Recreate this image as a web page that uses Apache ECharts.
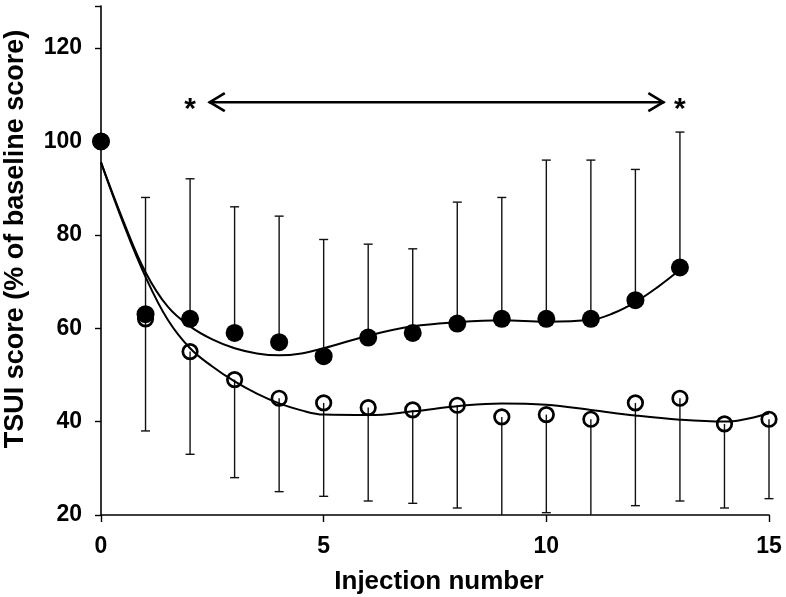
<!DOCTYPE html>
<html>
<head>
<meta charset="utf-8">
<script src="https://cdn.jsdelivr.net/npm/echarts@6/dist/echarts.min.js"></script>
<style>
html,body{margin:0;padding:0;background:#fff;}
#chart{width:786px;height:597px;}
</style>
</head>
<body>
<div id="chart"></div>
<script>
// ---- data ----
var filledX = [0,1,2,3,4,5,6,7,8,9,10,11,12,13];
var filledY = [100,63,62,59,57,54,58,59,61,62,62,62,66,73];
var filledUpper = [null,88,92,86,84,79,78,77,87,88,96,96,94,102];

var openX = [0,1,2,3,4,5,6,7,8,9,10,11,12,13,14,15];
var openY = [100,62,55,49,45,44,43,42.5,43.5,41,41.5,40.5,44,45,39.5,40.5];
var openLower = [null,38,33,28,25,24,23,22.5,21.5,18,20.5,18,22,23,21.5,23.5];

// fitted curves
var fitFilledX = [0,0.5,1,1.5,2,2.5,3,3.5,4,4.5,5,6,7,8,9,10,11,11.5,12,12.5,13];
var fitFilledY = [95.5,83,72,64.6,60.4,57.6,55.7,54.6,54.2,54.6,55.7,58.4,60.4,61.3,61.7,61.4,61.8,63.2,65.6,68.8,72.5];
var fitOpenX = [0,0.5,1,1.5,2,2.5,3,3.5,4,4.5,5,6,7,8,9,10,11,12,13,14,15];
var fitOpenY = [95.5,82.5,71,61.8,55.7,51.8,48.6,46,43.9,42.4,41.5,41.4,42.2,43.3,43.9,43.6,42.5,41.3,40.4,40.0,41.8];

// significance annotation
var arrowSpan = [2.42, 12.65];
var arrowLevel = 108.4;
var starX = [2, 13];
var starLevel = 108.4;

var xTicks = [0,5,10,15];
var yTicks = [20,40,60,80,100,120];
var yMin = 20, yMax = 129;
var xTitle = 'Injection number';
var yTitle = 'TSUI score (% of baseline score)';

// ---- build ----
var FONT = "'Liberation Sans', Arial, Helvetica, sans-serif";
function zip(a,b){ return a.map(function(v,i){ return [v,b[i]]; }); }

var filledErr = [];
filledX.forEach(function(x,i){ if(filledUpper[i]!=null) filledErr.push([x, filledY[i], filledUpper[i]]); });
var openErr = [];
openX.forEach(function(x,i){ if(openLower[i]!=null) openErr.push([x, openLower[i], openY[i]]); });

function errRender(capTop){
  return function(params, api){
    var x = api.value(0), lo = api.value(1), hi = api.value(2);
    var a = api.coord([x, Math.max(lo, yMin)]), b = api.coord([x, hi]);
    var st = {stroke:'#111', lineWidth:1.4};
    var kids = [{type:'line', shape:{x1:a[0],y1:a[1],x2:b[0],y2:b[1]}, style:st}];
    if (capTop || lo >= yMin) {
      var c = capTop ? b : a;
      kids.push({type:'line', shape:{x1:c[0]-4.5,y1:c[1],x2:c[0]+4.5,y2:c[1]}, style:st});
    }
    return {type:'group', children:kids};
  };
}

var chart = echarts.init(document.getElementById('chart'), null, {renderer:'canvas'});
var option = {
  animation:false,
  backgroundColor:'#fff',
  grid:{left:101, right:17, top:6, bottom:82},
  xAxis:{
    type:'value', min:0, max:15, interval:5,
    axisLine:{lineStyle:{color:'#000', width:1.6}},
    axisTick:{length:7, lineStyle:{color:'#000', width:1.4}},
    axisLabel:{color:'#000', fontSize:23, fontWeight:'bold', fontFamily:FONT, margin:20,
      formatter:function(v){ return xTicks.indexOf(v)>=0 ? String(v) : ''; }},
    splitLine:{show:false}
  },
  yAxis:{
    type:'value', min:yMin, max:yMax, interval:20,
    axisLine:{show:true, lineStyle:{color:'#000', width:1.6}},
    axisTick:{show:true, length:6, lineStyle:{color:'#000', width:1.4}},
    axisLabel:{color:'#000', fontSize:23, fontWeight:'bold', fontFamily:FONT, margin:19,
      formatter:function(v){ return yTicks.indexOf(v)>=0 ? String(v) : ''; }},
    splitLine:{show:false}
  },
  graphic:[
    {type:'text', x:16, y:239, rotation:Math.PI/2,
      style:{text:yTitle, font:'bold 27px '+FONT, fill:'#000', textAlign:'center', textVerticalAlign:'middle'}},
    {type:'text', x:439, y:582,
      style:{text:xTitle, font:'bold 26px '+FONT, fill:'#000', textAlign:'center', textVerticalAlign:'middle'}}
  ],
  series:[
    {type:'custom', name:'filledErr', data:filledErr, encode:{x:0, y:[1,2]}, clip:false, z:2,
      renderItem:errRender(true)},
    {type:'custom', name:'openErr', data:openErr, encode:{x:0, y:[1,2]}, clip:false, z:2,
      renderItem:errRender(false)},
    {type:'line', name:'fitFilled', data:zip(fitFilledX, fitFilledY), smooth:0.4, showSymbol:false, symbol:'none',
      lineStyle:{color:'#000', width:2}, z:3},
    {type:'line', name:'fitOpen', data:zip(fitOpenX, fitOpenY), smooth:0.4, showSymbol:false, symbol:'none',
      lineStyle:{color:'#000', width:2}, z:3},
    {type:'scatter', name:'filled', data:zip(filledX, filledY), symbol:'circle', symbolSize:18,
      itemStyle:{color:'#000', opacity:1}, z:4},
    {type:'scatter', name:'open', data:zip(openX, openY), symbol:'circle', symbolSize:14.5,
      itemStyle:{color:'rgba(0,0,0,0)', borderColor:'#000', borderWidth:2.7, opacity:1}, z:5},
    {type:'custom', name:'arrow', data:[[arrowSpan[0], arrowSpan[1], arrowLevel]], encode:{x:[0,1], y:2}, z:6,
      renderItem:function(params, api){
        var a = api.coord([api.value(0), api.value(2)]);
        var b = api.coord([api.value(1), api.value(2)]);
        var st = {stroke:'#000', lineWidth:2.6, fill:null};
        return {type:'group', children:[
          {type:'line', shape:{x1:a[0],y1:a[1],x2:b[0],y2:b[1]}, style:st},
          {type:'polyline', shape:{points:[[a[0]+16,a[1]-9],[a[0]+1,a[1]],[a[0]+16,a[1]+9]]}, style:st},
          {type:'polyline', shape:{points:[[b[0]-16,b[1]-9],[b[0]-1,b[1]],[b[0]-16,b[1]+9]]}, style:st}
        ]};
      }},
    {type:'custom', name:'stars', data:zip(starX, starX.map(function(){return starLevel;})), encode:{x:0, y:1}, z:6,
      renderItem:function(params, api){
        var p = api.coord([api.value(0), api.value(1)]);
        return {type:'text', x:p[0], y:p[1]+8,
          style:{text:'*', font:'bold 30px '+FONT, fill:'#000', textAlign:'center', textVerticalAlign:'middle'}};
      }}
  ]
};
chart.setOption(option);
</script>
</body>
</html>
